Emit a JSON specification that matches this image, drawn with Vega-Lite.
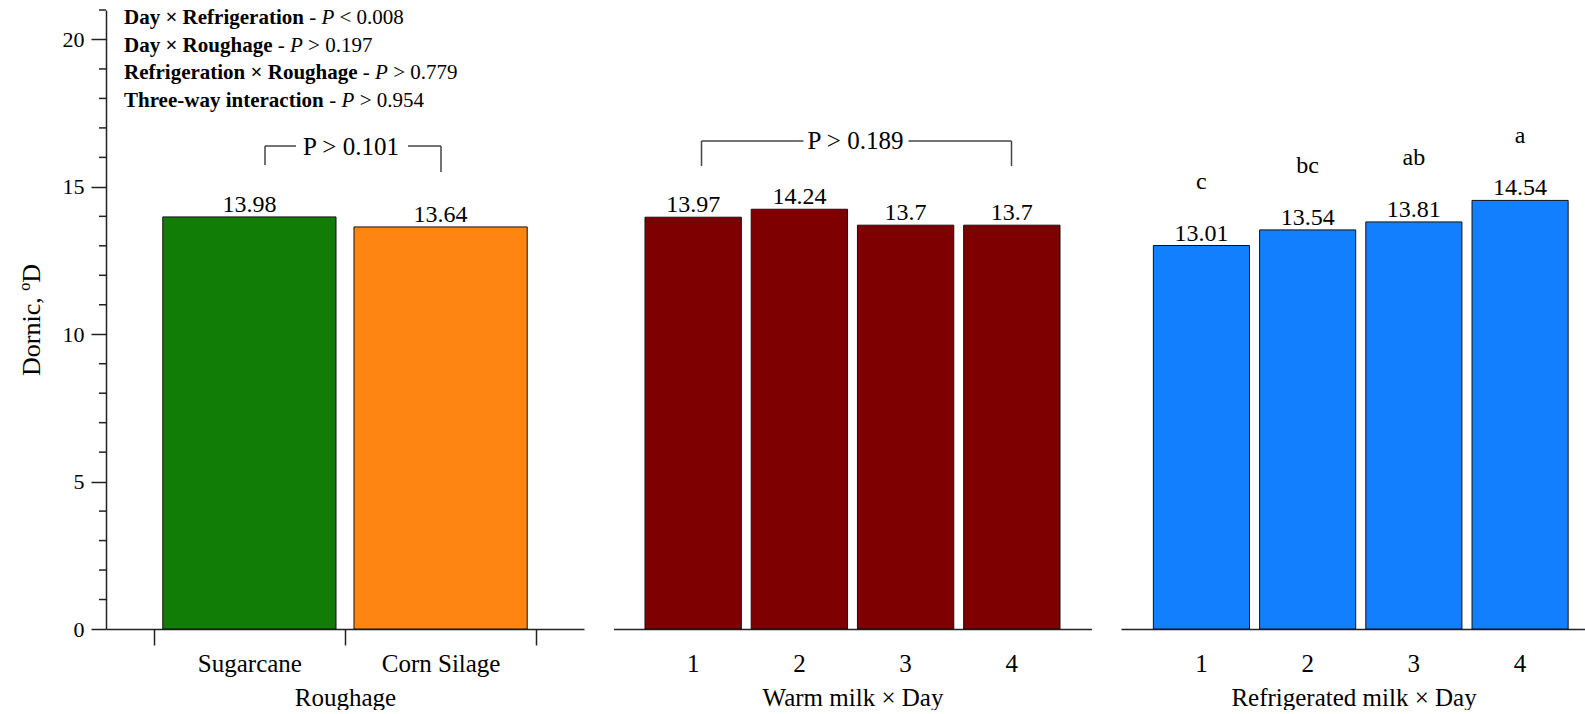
{
  "$schema": "https://vega.github.io/schema/vega-lite/v6.json",
  "padding": {"left": 18, "top": 7, "right": 0, "bottom": 0},
  "spacing": 29.5,
  "bounds": "flush",
  "config": {
    "view": {"stroke": null},
    "font": "Liberation Serif",
    "axis": {"labelFont": "Liberation Serif", "titleFont": "Liberation Serif", "labelColor": "#000", "titleColor": "#000", "titleFontWeight": "normal", "grid": false, "domainColor": "#222", "domainWidth": 1.5, "tickColor": "#222", "tickWidth": 1.5},
    "text": {"font": "Liberation Serif", "color": "#000"}
  },
  "datasets": {
    "rough": [
      {"Roughage": "Sugarcane", "Dornic": 13.98},
      {"Roughage": "Corn Silage", "Dornic": 13.64}
    ],
    "warm": [
      {"Day": "1", "Dornic": 13.97},
      {"Day": "2", "Dornic": 14.24},
      {"Day": "3", "Dornic": 13.7},
      {"Day": "4", "Dornic": 13.7}
    ],
    "refrig": [
      {"Day": "1", "Dornic": 13.01, "Letter": "c"},
      {"Day": "2", "Dornic": 13.54, "Letter": "bc"},
      {"Day": "3", "Dornic": 13.81, "Letter": "ab"},
      {"Day": "4", "Dornic": 14.54, "Letter": "a"}
    ],
    "minor": [
      {"v": 1}, {"v": 2}, {"v": 3}, {"v": 4}, {"v": 6}, {"v": 7}, {"v": 8}, {"v": 9},
      {"v": 11}, {"v": 12}, {"v": 13}, {"v": 14}, {"v": 16}, {"v": 17}, {"v": 18}, {"v": 19}, {"v": 21}
    ],
    "notes": [
      {"style": "bold", "text": "Day × Refrigeration", "u": 0.3441, "y": 20.525},
      {"style": "regular", "text": "-", "u": 1.3127, "y": 20.525},
      {"style": "italic", "text": "P", "u": 1.3767, "y": 20.525},
      {"style": "regular", "text": "< 0.008", "u": 1.4712, "y": 20.525},
      {"style": "bold", "text": "Day × Roughage", "u": 0.3441, "y": 19.592},
      {"style": "regular", "text": "-", "u": 1.1481, "y": 19.592},
      {"style": "italic", "text": "P", "u": 1.2121, "y": 19.592},
      {"style": "regular", "text": "> 0.197", "u": 1.3067, "y": 19.592},
      {"style": "bold", "text": "Refrigeration × Roughage", "u": 0.3441, "y": 18.659},
      {"style": "regular", "text": "-", "u": 1.5933, "y": 18.659},
      {"style": "italic", "text": "P", "u": 1.6573, "y": 18.659},
      {"style": "regular", "text": "> 0.779", "u": 1.7519, "y": 18.659},
      {"style": "bold", "text": "Three-way interaction", "u": 0.3441, "y": 17.726},
      {"style": "regular", "text": "-", "u": 1.4179, "y": 17.726},
      {"style": "italic", "text": "P", "u": 1.4819, "y": 17.726},
      {"style": "regular", "text": "> 0.954", "u": 1.5765, "y": 17.726}
    ],
    "br1": [
      {"x1": 1.0816, "x2": 1.0816, "y1": 15.742, "y2": 16.386},
      {"x1": 1.0816, "x2": 1.2437, "y1": 16.386, "y2": 16.386},
      {"x1": 1.8295, "x2": 2.0021, "y1": 16.386, "y2": 16.386},
      {"x1": 2.0021, "x2": 2.0021, "y1": 16.386, "y2": 15.504}
    ],
    "br1t": [{"u": 1.5314, "y": 16.081, "text": "P > 0.101"}],
    "br2": [
      {"x1": 1.0785, "x2": 1.0785, "y1": 15.708, "y2": 16.556},
      {"x1": 1.0785, "x2": 2.0387, "y1": 16.556, "y2": 16.556},
      {"x1": 3.0273, "x2": 3.997, "y1": 16.556, "y2": 16.556},
      {"x1": 3.997, "x2": 3.997, "y1": 16.556, "y2": 15.708}
    ],
    "br2t": [{"u": 2.5283, "y": 16.274, "text": "P > 0.189"}]
  },
  "hconcat": [
    {
      "width": 478,
      "height": 619,
      "layer": [
        {
          "data": {"name": "rough"},
          "encoding": {
            "x": {"field": "Roughage", "type": "nominal", "sort": ["Sugarcane", "Corn Silage"], "scale": {"paddingInner": 0, "paddingOuter": 0.25},
              "axis": {"title": "Roughage", "tickBand": "extent", "labelAngle": 0, "tickSize": 16, "labelPadding": 6, "labelFontSize": 25, "titleFontSize": 25, "titlePadding": 9}},
            "y": {"field": "Dornic", "type": "quantitative", "scale": {"domain": [0, 21], "nice": false},
              "axis": {"title": "Dornic, ºD", "orient": "left", "values": [0, 5, 10, 15, 20],
                "tickSize": 15, "labelPadding": 7, "labelFontSize": 22, "titleFontSize": 26, "titlePadding": 18}}
          },
          "layer": [
            {"mark": {"type": "bar", "width": {"band": 0.906}, "stroke": "#111", "strokeWidth": 1},
              "encoding": {"fill": {"field": "Roughage", "type": "nominal", "scale": {"domain": ["Sugarcane", "Corn Silage"], "range": ["#117D07", "#FF8512"]}, "legend": null}}},
            {"mark": {"type": "text", "font": "Liberation Serif", "dy": -5, "fontSize": 24, "baseline": "alphabetic"},
              "encoding": {"text": {"field": "Dornic", "type": "nominal"}}}
          ]
        },
        {
          "layer": [
            {"data": {"name": "minor"}, "mark": {"type": "rule", "color": "#222", "strokeWidth": 1.5},
              "encoding": {
                "x": {"datum": 0.2134, "type": "quantitative", "scale": {"domain": [0.25, 2.75], "nice": false, "zero": false}, "axis": null},
                "x2": {"datum": 0.25},
                "y": {"field": "v", "type": "quantitative", "scale": {"domain": [0, 21], "nice": false}, "axis": null}}},
            {"data": {"name": "br1"}, "mark": {"type": "rule", "color": "#444", "strokeWidth": 1.5},
              "encoding": {
                "x": {"field": "x1", "type": "quantitative", "scale": {"domain": [0.25, 2.75], "nice": false, "zero": false}, "axis": null},
                "x2": {"field": "x2"},
                "y": {"field": "y1", "type": "quantitative", "scale": {"domain": [0, 21], "nice": false}, "axis": null},
                "y2": {"field": "y2"}}},
            {"data": {"name": "br1t"}, "mark": {"type": "text", "font": "Liberation Serif", "fontSize": 25, "baseline": "alphabetic", "align": "center"},
              "encoding": {
                "x": {"field": "u", "type": "quantitative", "scale": {"domain": [0.25, 2.75], "nice": false, "zero": false}, "axis": null},
                "y": {"field": "y", "type": "quantitative", "scale": {"domain": [0, 21], "nice": false}, "axis": null},
                "text": {"field": "text"}}},
            {"data": {"name": "notes"}, "transform": [{"filter": "datum.style === 'bold'"}],
              "mark": {"type": "text", "font": "Liberation Serif", "fontSize": 21, "fontWeight": "bold", "align": "left", "baseline": "alphabetic"},
              "encoding": {
                "x": {"field": "u", "type": "quantitative", "scale": {"domain": [0.25, 2.75], "nice": false, "zero": false}, "axis": null},
                "y": {"field": "y", "type": "quantitative", "scale": {"domain": [0, 21], "nice": false}, "axis": null},
                "text": {"field": "text"}}},
            {"data": {"name": "notes"}, "transform": [{"filter": "datum.style === 'regular'"}],
              "mark": {"type": "text", "font": "Liberation Serif", "fontSize": 21, "align": "left", "baseline": "alphabetic"},
              "encoding": {
                "x": {"field": "u", "type": "quantitative", "scale": {"domain": [0.25, 2.75], "nice": false, "zero": false}, "axis": null},
                "y": {"field": "y", "type": "quantitative", "scale": {"domain": [0, 21], "nice": false}, "axis": null},
                "text": {"field": "text"}}},
            {"data": {"name": "notes"}, "transform": [{"filter": "datum.style === 'italic'"}],
              "mark": {"type": "text", "font": "Liberation Serif", "fontSize": 21, "fontStyle": "italic", "align": "left", "baseline": "alphabetic"},
              "encoding": {
                "x": {"field": "u", "type": "quantitative", "scale": {"domain": [0.25, 2.75], "nice": false, "zero": false}, "axis": null},
                "y": {"field": "y", "type": "quantitative", "scale": {"domain": [0, 21], "nice": false}, "axis": null},
                "text": {"field": "text"}}}
          ]
        }
      ],
      "resolve": {"scale": {"x": "independent"}, "axis": {"y": "independent"}}
    },
    {
      "width": 478,
      "height": 619,
      "layer": [
        {
          "data": {"name": "warm"},
          "encoding": {
            "x": {"field": "Day", "type": "ordinal", "scale": {"paddingInner": 0, "paddingOuter": 0.25},
              "axis": {"title": "Warm milk × Day", "labelAngle": 0, "tickSize": 16, "tickOpacity": 0, "labelPadding": 6, "labelFontSize": 25, "titleFontSize": 25, "titlePadding": 9}},
            "y": {"field": "Dornic", "type": "quantitative", "scale": {"domain": [0, 21], "nice": false}, "axis": null}
          },
          "layer": [
            {"mark": {"type": "bar", "width": {"band": 0.907}, "fill": "#7E0000", "stroke": "#111", "strokeWidth": 1}},
            {"mark": {"type": "text", "font": "Liberation Serif", "dy": -5, "fontSize": 24, "baseline": "alphabetic"},
              "encoding": {"text": {"field": "Dornic", "type": "nominal"}}}
          ]
        },
        {
          "layer": [
            {"data": {"name": "br2"}, "mark": {"type": "rule", "color": "#444", "strokeWidth": 1.5},
              "encoding": {
                "x": {"field": "x1", "type": "quantitative", "scale": {"domain": [0.25, 4.75], "nice": false, "zero": false}, "axis": null},
                "x2": {"field": "x2"},
                "y": {"field": "y1", "type": "quantitative", "scale": {"domain": [0, 21], "nice": false}, "axis": null},
                "y2": {"field": "y2"}}},
            {"data": {"name": "br2t"}, "mark": {"type": "text", "font": "Liberation Serif", "fontSize": 25, "baseline": "alphabetic", "align": "center"},
              "encoding": {
                "x": {"field": "u", "type": "quantitative", "scale": {"domain": [0.25, 4.75], "nice": false, "zero": false}, "axis": null},
                "y": {"field": "y", "type": "quantitative", "scale": {"domain": [0, 21], "nice": false}, "axis": null},
                "text": {"field": "text"}}}
          ]
        }
      ],
      "resolve": {"scale": {"x": "independent"}}
    },
    {
      "width": 465,
      "height": 619,
      "data": {"name": "refrig"},
      "encoding": {
        "x": {"field": "Day", "type": "ordinal", "scale": {"paddingInner": 0, "paddingOuter": 0.1888, "align": 0.681},
          "axis": {"title": "Refrigerated milk × Day", "labelAngle": 0, "tickSize": 16, "tickOpacity": 0, "labelPadding": 6, "labelFontSize": 25, "titleFontSize": 25, "titlePadding": 9}},
        "y": {"field": "Dornic", "type": "quantitative", "scale": {"domain": [0, 21], "nice": false}, "axis": null}
      },
      "layer": [
        {"mark": {"type": "bar", "width": {"band": 0.905}, "fill": "#1280FE", "stroke": "#111", "strokeWidth": 1}},
        {"mark": {"type": "text", "font": "Liberation Serif", "dy": -5, "fontSize": 24, "baseline": "alphabetic"},
          "encoding": {"text": {"field": "Dornic", "type": "nominal"}}},
        {"mark": {"type": "text", "font": "Liberation Serif", "dy": -57, "fontSize": 24, "baseline": "alphabetic"},
          "encoding": {"text": {"field": "Letter", "type": "nominal"}}}
      ]
    }
  ]
}
